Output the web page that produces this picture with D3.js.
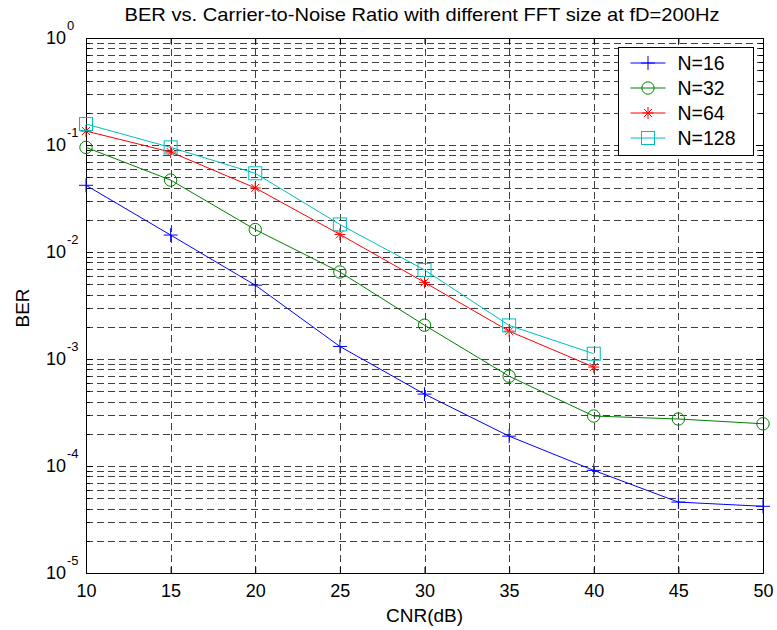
<!DOCTYPE html>
<html>
<head>
<meta charset="utf-8">
<script src="https://cdn.jsdelivr.net/npm/d3@7"></script>
<style>
  body { margin: 0; background: #fff; }
  text { font-family: "Liberation Sans", Arial, sans-serif; fill: #000; }
</style>
</head>
<body>
<div id="chart"></div>
<script>
// data
var cnr = [10, 15, 20, 25, 30, 35, 40, 45, 50];
var ber16 = [0.042, 0.0144, 0.0049, 0.00131, 0.00047, 0.00019, 0.000091, 0.000046, 0.000042];
var ber32 = [0.095, 0.047, 0.0162, 0.0065, 0.00207, 0.00069, 0.000293, 0.000275, 0.000248];
var ber64 = [0.135, 0.086, 0.0397, 0.0146, 0.0052, 0.00182, 0.00084];
var ber128 = [0.157, 0.095, 0.0544, 0.0181, 0.0068, 0.00206, 0.00112];
var seriesNames = ["N=16", "N=32", "N=64", "N=128"];
var xTicks = [10, 15, 20, 25, 30, 35, 40, 45, 50];
var yExponents = [0, -1, -2, -3, -4, -5];

var svgWidth = 777;
var svgHeight = 630;

var margin = { top: 38, right: 14, bottom: 57, left: 86 };
var width = svgWidth - margin.left - margin.right;
var height = svgHeight - margin.top - margin.bottom;

var svg = d3.select("#chart")
    .append("svg")
    .attr("width", svgWidth)
    .attr("height", svgHeight);

var chartGroup = svg.append("g")
    .attr("transform", `translate(${margin.left}, ${margin.top})`);

var xScale = d3.scaleLinear().domain([10, 50]).range([0, width]);
var yScale = d3.scaleLog().domain([1e-5, 1]).range([height, 0]);

// minor + major values for the log grid
var logValues = [];
for (var e = -5; e < 0; e++) {
    for (var m = 1; m <= 9; m++) {
        logValues.push(m * Math.pow(10, e));
    }
}
logValues.push(1);

var gridColor = "#404040";

// horizontal grid
chartGroup.append("g")
    .selectAll("line")
    .data(logValues.filter(v => v > 1e-5 && v < 1))
    .enter()
    .append("line")
    .attr("x1", 0)
    .attr("x2", width)
    .attr("y1", d => Math.round(yScale(d)) + 0.5)
    .attr("y2", d => Math.round(yScale(d)) + 0.5)
    .attr("stroke", gridColor)
    .attr("stroke-width", 1)
    .attr("stroke-dasharray", "7,4");

// vertical grid
chartGroup.append("g")
    .selectAll("line")
    .data(xTicks.slice(1, -1))
    .enter()
    .append("line")
    .attr("x1", d => Math.round(xScale(d)) + 0.5)
    .attr("x2", d => Math.round(xScale(d)) + 0.5)
    .attr("y1", 0)
    .attr("y2", height)
    .attr("stroke", gridColor)
    .attr("stroke-width", 1)
    .attr("stroke-dasharray", "7,4");

// axes with inward ticks
var bottomAxis = d3.axisBottom(xScale).tickValues(xTicks).tickSizeInner(-6).tickSizeOuter(0).tickPadding(11);
var topAxis = d3.axisTop(xScale).tickValues(xTicks).tickSizeInner(-6).tickSizeOuter(0).tickFormat("");

chartGroup.append("g")
    .attr("transform", `translate(0, ${height})`)
    .call(bottomAxis)
    .call(g => g.selectAll("text").attr("font-size", 18).attr("font-family", "Liberation Sans, Arial, sans-serif"));

chartGroup.append("g").call(topAxis);

var majorY = yExponents.map(e => Math.pow(10, e));
var minorY = logValues.filter(v => majorY.indexOf(v) < 0 && v > 1e-5 && v < 1);

[0, width].forEach(function(xPos) {
    var dir = xPos === 0 ? 1 : -1;
    var side = chartGroup.append("g");
    side.selectAll(".maj")
        .data(majorY)
        .enter()
        .append("line")
        .attr("x1", xPos)
        .attr("x2", xPos + dir * 7)
        .attr("y1", d => Math.round(yScale(d)) + 0.5)
        .attr("y2", d => Math.round(yScale(d)) + 0.5)
        .attr("stroke", "#000");
    side.selectAll(".min")
        .data(minorY)
        .enter()
        .append("line")
        .attr("x1", xPos)
        .attr("x2", xPos + dir * 4)
        .attr("y1", d => Math.round(yScale(d)) + 0.5)
        .attr("y2", d => Math.round(yScale(d)) + 0.5)
        .attr("stroke", "#000");
});

chartGroup.selectAll(".domain").remove();
chartGroup.selectAll(".tick line").attr("stroke", "#000");

// plot box
chartGroup.append("rect")
    .attr("x", 0.5)
    .attr("y", 0.5)
    .attr("width", width)
    .attr("height", height)
    .attr("fill", "none")
    .attr("stroke", "#000")
    .attr("stroke-width", 1);

// y tick labels 10^k
var yLabels = chartGroup.append("g");
yExponents.forEach(function(ex) {
    yLabels.append("text")
        .attr("x", -20)
        .attr("y", yScale(Math.pow(10, ex)) + 6)
        .attr("text-anchor", "end")
        .attr("font-size", 18)
        .text("10");
    yLabels.append("text")
        .attr("x", -19)
        .attr("y", yScale(Math.pow(10, ex)) - 8)
        .attr("font-size", 13)
        .text(ex);
});

// lines and markers
var allSeries = [ber16, ber32, ber64, ber128];
var colors = ["#0000ff", "#008000", "#ff0000", "#00bfbf"];
var markers = ["plus", "circle", "star", "square"];

function drawMarker(g, type, color) {
    if (type === "plus") {
        g.append("path").attr("d", "M-7,0H7M0,-7V7").attr("stroke", color).attr("fill", "none");
    } else if (type === "circle") {
        g.append("circle").attr("r", 6.2).attr("stroke", color).attr("fill", "none");
    } else if (type === "star") {
        g.append("path")
            .attr("d", "M-5.5,0H5.5M0,-6V6M-4,-4L4,4M-4,4L4,-4")
            .attr("stroke", color).attr("fill", "none");
    } else {
        g.append("rect").attr("x", -6.5).attr("y", -6.5).attr("width", 13).attr("height", 13)
            .attr("stroke", color).attr("fill", "none");
    }
}

var line = d3.line()
    .x((d, i) => xScale(cnr[i]))
    .y(d => yScale(d));

allSeries.forEach(function(values, s) {
    chartGroup.append("path")
        .datum(values)
        .attr("d", line)
        .attr("fill", "none")
        .attr("stroke", colors[s])
        .attr("stroke-width", 1);

    values.forEach(function(v, i) {
        var g = chartGroup.append("g")
            .attr("transform", `translate(${xScale(cnr[i])}, ${yScale(v)})`);
        drawMarker(g, markers[s], colors[s]);
    });
});

// legend
var legend = svg.append("g").attr("transform", "translate(618.5, 47.5)");
legend.append("rect")
    .attr("width", 135)
    .attr("height", 108)
    .attr("fill", "#fff")
    .attr("stroke", "#000");

seriesNames.forEach(function(name, s) {
    var yy = 15.5 + s * 25;
    legend.append("line")
        .attr("x1", 12).attr("x2", 47)
        .attr("y1", yy).attr("y2", yy)
        .attr("stroke", colors[s]);
    drawMarker(legend.append("g").attr("transform", `translate(29.5, ${yy})`), markers[s], colors[s]);
    legend.append("text")
        .attr("x", 59)
        .attr("y", yy + 7)
        .attr("font-size", 19.5)
        .text(name);
});

// title and axis labels
svg.append("text")
    .attr("x", 422)
    .attr("y", 21)
    .attr("text-anchor", "middle")
    .attr("font-size", 19)
    .attr("textLength", 595)
    .attr("lengthAdjust", "spacingAndGlyphs")
    .text("BER vs. Carrier-to-Noise Ratio with different FFT size at fD=200Hz");

svg.append("text")
    .attr("x", margin.left + width / 2)
    .attr("y", 622)
    .attr("text-anchor", "middle")
    .attr("font-size", 19)
    .text("CNR(dB)");

svg.append("text")
    .attr("transform", "translate(29, 308) rotate(-90)")
    .attr("text-anchor", "middle")
    .attr("font-size", 19)
    .text("BER");
</script>
</body>
</html>
